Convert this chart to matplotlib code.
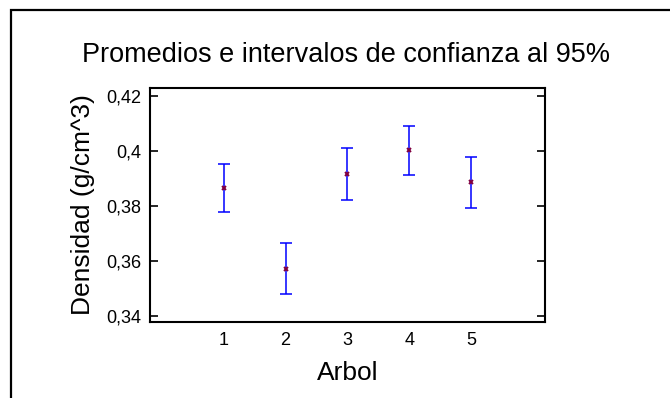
import matplotlib.pyplot as plt
from matplotlib.patches import Rectangle

plt.rcParams['font.family'] = ['Liberation Sans', 'DejaVu Sans']

# medias e intervalos de confianza al 95% por arbol
arboles = [1, 2, 3, 4, 5]
medias = [0.3866, 0.3571, 0.3915, 0.4003, 0.3886]
lim_inf = [0.3779, 0.3480, 0.3821, 0.3911, 0.3793]
lim_sup = [0.3954, 0.3666, 0.4010, 0.4090, 0.3977]

yticks = [0.34, 0.36, 0.38, 0.40, 0.42]
ytick_labels = ['0,34', '0,36', '0,38', '0,4', '0,42']

fig = plt.figure(figsize=(6.7, 3.98), dpi=100)
ax = fig.add_axes([0.2239, 0.191, 0.5895, 0.5879])

err = [[m - lo for m, lo in zip(medias, lim_inf)],
       [hi - m for m, hi in zip(medias, lim_sup)]]
ax.errorbar(arboles, medias, yerr=err, fmt='none', ecolor='#0000ff',
            elinewidth=1.1, capsize=4.3, capthick=1.1)
ax.plot(arboles, medias, linestyle='none', marker='x', markersize=3.5,
        markeredgewidth=1.4, color='#800040')

ax.set_xlim(-0.19, 6.19)
ax.set_ylim(0.3377, 0.4229)
ax.set_xticks(arboles)
ax.set_xticklabels([str(a) for a in arboles], fontsize=13)
ax.set_yticks(yticks)
ax.set_yticklabels(ytick_labels, fontsize=13)
ax.tick_params(axis='x', length=0, pad=7)
ax.tick_params(axis='y', direction='in', length=6, width=1.2,
               right=True, pad=6)
for s in ax.spines.values():
    s.set_linewidth(1.5)

ax.set_xlabel('Arbol', fontsize=19, labelpad=9)
ax.set_ylabel('Densidad (g/cm^3)', fontsize=19, labelpad=8)
fig.text(0.516, 0.862, 'Promedios e intervalos de confianza al 95%',
         ha='center', va='center', fontsize=19.5)

# marco exterior
fig.patches.append(Rectangle((11 / 670, -0.5), 2.0, 1.5 - 10 / 398,
                             transform=fig.transFigure, fill=False,
                             edgecolor='black', linewidth=1.6))

fig.savefig('out.png', dpi=100)
